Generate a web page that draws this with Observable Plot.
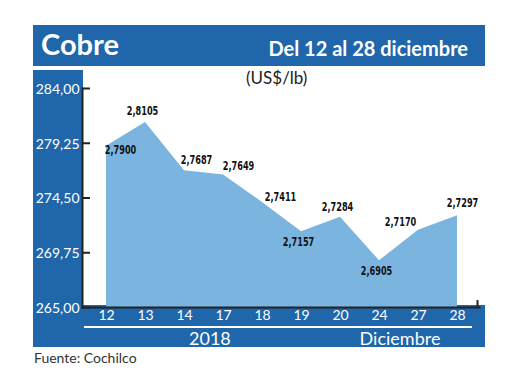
<!DOCTYPE html>
<html>
<head>
<meta charset="utf-8">
<script src="https://cdn.jsdelivr.net/npm/d3@7"></script>
<script src="https://cdn.jsdelivr.net/npm/@observablehq/plot@0.6"></script>
<style>
  body { margin: 0; background: #fff; }
  #wrap { position: relative; width: 520px; height: 390px; overflow: hidden; font-family: Lato, "Open Sans", sans-serif; }
  .blk { position: absolute; background: #1f66aa; }
  .t { position: absolute; white-space: nowrap; }
  #chart { position: absolute; left: 0; top: 0; }
</style>
</head>
<body>
<div id="wrap">
  <div class="blk" style="left:33px;top:25px;width:452px;height:41px;"></div>
  <div class="t" style="left:41px;top:26px;font-size:29px;font-weight:bold;color:#fff;line-height:36px;">Cobre</div>
  <div class="t" style="right:52px;top:35px;font-size:20px;font-weight:bold;color:#fff;line-height:26px;">Del 12 al 28 diciembre</div>
  <div class="blk" style="left:33px;top:70px;width:50px;height:277px;"></div>
  <div class="blk" style="left:33px;top:305px;width:452px;height:42px;"></div>
  <div style="position:absolute;left:84px;top:326px;width:388px;height:1.5px;background:#fff;"></div>
  <div class="t" style="left:189px;top:327px;width:40px;text-align:center;font-size:18px;color:#fff;line-height:22px;">2018</div>
  <div class="t" style="left:350px;top:327px;width:100px;text-align:center;font-size:18px;color:#fff;line-height:22px;">Diciembre</div>
  <div class="t" style="left:246px;top:67px;font-size:17px;color:#222;line-height:22px;">(US$/lb)</div>
  <div class="t" style="left:34px;top:349px;font-size:14px;color:#333;line-height:18px;">Fuente: Cochilco</div>
  <div id="chart"></div>
</div>
<script>
const days = ["12", "13", "14", "17", "18", "19", "20", "24", "27", "28"];
const prices = [2.7900, 2.8105, 2.7687, 2.7649, 2.7411, 2.7157, 2.7284, 2.6905, 2.7170, 2.7297];
const yTicks = [265.00, 269.75, 274.50, 279.25, 284.00];

const data = days.map((d, i) => ({
  day: d,
  value: prices[i] * 100,
  label: prices[i].toFixed(4).replace(".", ",")
}));

const fmt = d => d.toFixed(2).replace(".", ",");
const labelFont = { fontFamily: "'Liberation Sans Narrow', 'DejaVu Sans Condensed', 'DejaVu Sans', sans-serif", fontWeight: "bold", fontSize: 13, fill: "#111" };
const pick = (...ds) => d => ds.includes(d.day);

const chart = Plot.plot({
  width: 520,
  height: 390,
  marginLeft: 82,
  marginRight: 41,
  marginTop: 88,
  marginBottom: 83,
  style: { background: "transparent", overflow: "visible" },
  x: { type: "point", domain: days, range: [103, 459], padding: 0, axis: null },
  y: { domain: [yTicks[0], yTicks[yTicks.length - 1]], axis: null },
  marks: [
    Plot.areaY(data, { x: "day", y1: yTicks[0], y2: "value", fill: "#7cb4e0" }),
    Plot.frame({ anchor: "left", stroke: "#222", strokeWidth: 2 }),
    Plot.frame({ anchor: "bottom", stroke: "#222", strokeWidth: 2 }),
    Plot.tickY(yTicks, { y: d => d, stroke: "#222", strokeWidth: 2, insetRight: 389 }),
    Plot.ruleX([days[days.length - 1]], { dx: 20, y1: yTicks[0], y2: yTicks[0] + 0.6, stroke: "#222", strokeWidth: 2 }),
    Plot.text(yTicks, { y: d => d, text: fmt, frameAnchor: "left", textAnchor: "end", dx: -3, dy: 1, fill: "#fff", fontSize: 14, fontFamily: "Lato, sans-serif" }),
    Plot.text(days, { x: d => d, text: d => d, frameAnchor: "bottom", dy: 12, fill: "#fff", fontSize: 14, fontFamily: "Lato, sans-serif" }),
    // value labels
    Plot.text(data.filter(pick("12")), { x: "day", y: "value", text: "label", dx: 14, dy: 4, ...labelFont }),
    Plot.text(data.filter(pick("13")), { x: "day", y: "value", text: "label", dx: -3, dy: -12, ...labelFont }),
    Plot.text(data.filter(pick("14")), { x: "day", y: "value", text: "label", dx: 12, dy: -11, ...labelFont }),
    Plot.text(data.filter(pick("17")), { x: "day", y: "value", text: "label", dx: 15, dy: -9, ...labelFont }),
    Plot.text(data.filter(pick("18")), { x: "day", y: "value", text: "label", dx: 18, dy: -6, ...labelFont }),
    Plot.text(data.filter(pick("19", "24")), { x: "day", y: "value", text: "label", dx: -3, dy: 10, ...labelFont }),
    Plot.text(data.filter(pick("20")), { x: "day", y: "value", text: "label", dx: -3, dy: -10, ...labelFont }),
    Plot.text(data.filter(pick("27")), { x: "day", y: "value", text: "label", dx: -18, dy: -8, ...labelFont }),
    Plot.text(data.filter(pick("28")), { x: "day", y: "value", text: "label", dx: 5, dy: -13, ...labelFont })
  ]
});

// condense the value labels horizontally (narrow bold look of the reference)
d3.select(chart).selectAll("text").each(function () {
  const el = d3.select(this);
  if (!/^\d,\d{4}$/.test(el.text())) return;
  const tr = el.attr("transform");
  if (tr) {
    el.attr("transform", tr + " scale(0.7,1)");
  } else {
    const x = +el.attr("x") || 0, y = +el.attr("y") || 0;
    el.attr("x", null).attr("y", null).attr("transform", `translate(${x},${y}) scale(0.7,1)`);
  }
});

document.getElementById("chart").appendChild(chart);
</script>
</body>
</html>
